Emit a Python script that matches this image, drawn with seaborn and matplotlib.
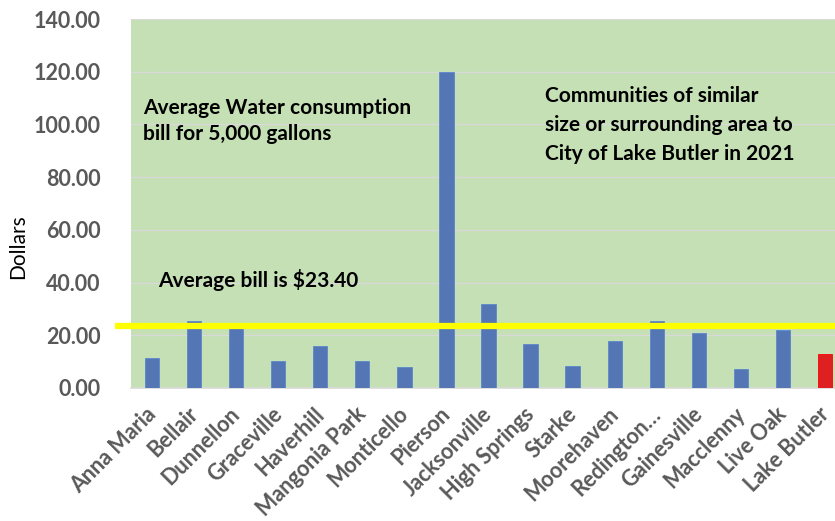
import matplotlib
matplotlib.use("Agg")
import matplotlib.pyplot as plt
import matplotlib.transforms as mtransforms
import seaborn as sns
import pandas as pd

# Monthly water bill for 5,000 gallons, 2021
towns = ["Anna Maria", "Bellair", "Dunnellon", "Graceville", "Haverhill",
         "Mangonia Park", "Monticello", "Pierson", "Jacksonville", "High Springs",
         "Starke", "Moorehaven", "Redington\u2026", "Gainesville", "Macclenny",
         "Live Oak", "Lake Butler"]
bills = [11.2, 25.4, 23.1, 10.2, 16.0, 10.2, 7.8, 120.0, 31.9, 16.6,
         8.3, 17.8, 25.4, 20.7, 7.1, 22.0, 12.8]
average_bill = 23.40
y_ticks = [0, 20, 40, 60, 80, 100, 120, 140]

BLUE = "#4472C4"
RED = "#FF0000"
GREEN = "#C5E0B4"
GRID = "#D9D9D9"
TICK_GREY = "#595959"

sns.set_theme(style="white")
plt.rcParams["font.family"] = ["Lato", "DejaVu Sans"]

W, H = 835, 521
fig = plt.figure(figsize=(W / 100, H / 100), dpi=100)
ax = fig.add_axes([131 / W, 1 - 388 / H, 715 / W, (388 - 19) / H])
ax.set_facecolor(GREEN)

df = pd.DataFrame({"town": towns, "bill": bills})
colors = [RED if t == "Lake Butler" else BLUE for t in towns]
sns.barplot(data=df, x="town", y="bill", hue="town", palette=colors,
            legend=False, width=0.34, ax=ax, zorder=3,
            edgecolor="#5B87CF", linewidth=0.6)
# the highlighted bar has no outline
ax.patches[-1].set_edgecolor(RED)

ax.set_ylim(0, 140)
ax.set_xlim(-0.5, len(towns) - 0.5)
ax.set_yticks(y_ticks)
ax.set_yticklabels([f"{v:.2f}" for v in y_ticks])
ax.yaxis.grid(True, color=GRID, linewidth=1, zorder=0)
ax.set_axisbelow(True)
for s in ["left", "right", "top"]:
    ax.spines[s].set_visible(False)
ax.spines["bottom"].set_color(GRID)
ax.spines["bottom"].set_linewidth(1.2)

ax.tick_params(axis="both", length=0)
ax.tick_params(axis="y", pad=22, labelsize=15.5, labelcolor=TICK_GREY)
ax.tick_params(axis="x", pad=11, labelsize=15.5, labelcolor=TICK_GREY)
for lbl in ax.get_yticklabels():
    lbl.set_fontweight("bold")
# nudge the slanted category names a little to the left
shift = mtransforms.ScaledTranslation(-0.07, 0, fig.dpi_scale_trans)
for lbl in ax.get_xticklabels():
    lbl.set_fontweight("bold")
    lbl.set_rotation(45)
    lbl.set_ha("right")
    lbl.set_rotation_mode("anchor")
    lbl.set_transform(lbl.get_transform() + shift)

ax.set_xlabel("")
ax.set_ylabel("")
fig.text(18 / W, 1 - 247 / H, "Dollars", rotation=90, va="center", ha="center",
         fontsize=15, color="black")

# average line, running slightly past the left edge of the plot area
ax.axhline(average_bill, xmin=-0.022, xmax=1, color="#FFFF00", linewidth=4.5,
           clip_on=False, zorder=5, solid_capstyle="butt")

fig.text(143 / W, 1 - 121 / H, "Average Water consumption\nbill for 5,000 gallons",
         ha="left", va="center", fontsize=15, fontweight="bold", color="black",
         linespacing=1.35)
fig.text(545 / W, 1 - 125 / H,
         "Communities of similar\nsize or surrounding area to\nCity of Lake Butler in 2021",
         ha="left", va="center", fontsize=15, fontweight="bold", color="black",
         linespacing=1.55)
fig.text(158 / W, 1 - 280 / H, f"Average bill is ${average_bill:.2f}",
         ha="left", va="center", fontsize=15, fontweight="bold", color="black")

fig.savefig("out.png", dpi=100, facecolor="white")
